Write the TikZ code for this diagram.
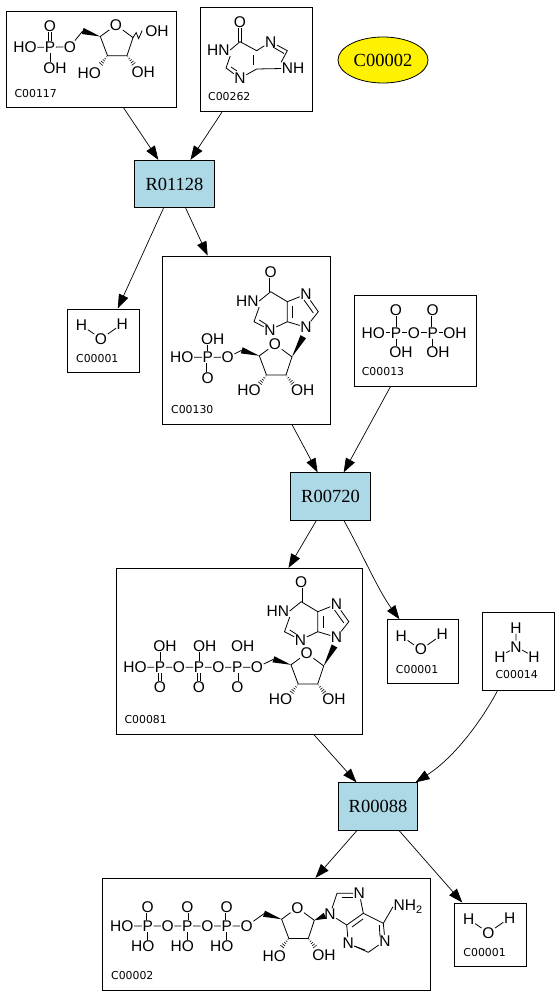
\documentclass[tikz,border=0pt]{standalone}
\usepackage{fontspec}
\setmainfont{Liberation Serif}
\newfontfamily\atomfont{Liberation Sans}
\newfontfamily\cidfont{DejaVu Sans}
\usetikzlibrary{calc, arrows.meta, shapes.geometric}

\tikzset{
  cpdbox/.style={draw, fill=white, line width=.8pt, inner sep=0pt},
  reaction/.style={draw, fill=boxblue, line width=.8pt, inner sep=0pt, minimum width=79.5pt, minimum height=47.5pt, font=\fontsize{18.5}{20}\selectfont},
  atom/.style={inner sep=.5pt, font=\atomfont\fontsize{15.5}{17}\selectfont},
  cid/.style={inner sep=0pt, font=\cidfont\fontsize{10.9}{12}\selectfont},
  bond/.style={line width=.8pt},
  dbl/.style={double, double distance=1.8pt, line width=.7pt},
  edge/.style={line width=.7pt, -{Triangle[length=14pt, width=10pt]}}
}
\definecolor{boxblue}{HTML}{ADD8E6}

% wedge and hash bonds
\newcommand{\wedgebond}[2]{\fill (#1) -- ($(#2)!3.2pt!90:(#1)$) -- ($(#2)!3.2pt!-90:(#1)$) -- cycle;}
\newcommand{\hashbond}[2]{\foreach \t/\w in {.1/.4pt,.28/.9pt,.46/1.3pt,.64/1.8pt,.82/2.3pt,1/2.7pt}
  \draw[line width=.6pt] ($(#1)!\t!(#2)!\w!90:(#2)$) -- ($(#1)!\t!(#2)!\w!-90:(#2)$);}

% sugar ring: prefix, ring oxygen, HO, OH
\newcommand{\ribose}[4]{
  \node[atom] (#1O) at #2 {O};
  \coordinate (#1c4) at ([shift={(-15.7,11.5)}]#1O);
  \coordinate (#1c3) at ([shift={(-8.5,30.7)}]#1O);
  \coordinate (#1c2) at ([shift={(11,30.7)}]#1O);
  \coordinate (#1c1) at ([shift={(17,12.6)}]#1O);
  \coordinate (#1c5) at ([shift={(-33.3,6)}]#1O);
  \coordinate (#1h3) at ([shift={(-8,10)}]#1c3);
  \coordinate (#1h2) at ([shift={(8,10)}]#1c2);
  \node[atom] (#1HO) at #3 {HO};
  \node[atom] (#1OH) at #4 {OH};
  \draw[bond] (#1O) -- (#1c4) -- (#1c3) -- (#1c2) -- (#1c1) -- (#1O);
  \wedgebond{#1c4}{#1c5}
  \hashbond{#1c3}{#1h3}
  \hashbond{#1c2}{#1h2}
}

% base with the sugar link at N9
\newcommand{\hypox}[3]{
  \begin{scope}[shift={(#2,#3)}]
    \node[atom] (#1O6) at (270.7,271.7) {O};
    \coordinate (#1c6) at (270.7,291.7);
    \node[atom] (#1N1) at (247.3,301) {HN};
    \coordinate (#1c2) at (254,321.7);
    \node[atom] (#1N3) at (270,330) {N};
    \coordinate (#1c4) at (287.3,321.7);
    \coordinate (#1c5) at (287.3,301.7);
    \node[atom] (#1N7) at (306,294.3) {N};
    \coordinate (#1c8) at (318.3,311.7);
    \node[atom] (#1N9) at (306,327.3) {N};
    \draw[dbl] (#1O6) -- (#1c6);
    \draw[bond] (#1c6) -- (#1N1.east);
    \draw[bond] (#1N1.south east) -- (#1c2) -- (#1N3) -- (#1c4) -- (#1c5) -- (#1c6);
    \draw[bond] (#1c5) -- (#1N7) -- (#1c8) -- (#1N9) -- (#1c4);
    \draw[bond] (259.3,320) -- (266,324.3);
    \draw[bond] (292.7,306) -- (292.7,318);
    \draw[bond] (304,300) -- (313.3,313);
  \end{scope}
}

% water, from the box corner
\newcommand{\water}[3]{
  \node[cpdbox, anchor=north west, minimum width=71.5pt, minimum height=63.5pt] (#1) at (#2,#3) {};
  \begin{scope}[shift={(#2,#3)}]
    \node[atom] (#1H1) at (14.5,16.7) {H};
    \node[atom] (#1O) at (34,30.3) {O};
    \node[atom] (#1H2) at (55.3,15.3) {H};
    \node[cid] (#1l) at (30.3,50) {C00001};
    \draw[bond] (#1H1) -- (#1O) -- (#1H2);
  \end{scope}
}

\begin{document}
\begin{tikzpicture}[x=1pt, y=-1pt]
    \useasboundingbox[fill=white] (0,0) rectangle (559,995);

    % Boxes
    \node[cpdbox, minimum width=169.5pt, minimum height=95.5pt] (c00117) at (91.3,59.5) {};
    \node[cpdbox, minimum width=112pt, minimum height=104.5pt] (c00262) at (256.7,59.5) {};
    \node[cpdbox, minimum width=168pt, minimum height=168pt] (c00130) at (246.7,340) {};
    \node[cpdbox, minimum width=122.5pt, minimum height=90.5pt] (c00013) at (415.5,340.8) {};
    \node[cpdbox, minimum width=245.5pt, minimum height=166pt] (c00081) at (239.5,651.3) {};
    \node[cpdbox, minimum width=72pt, minimum height=77.5pt] (c00014) at (518.3,651.3) {};
    \node[cpdbox, minimum width=327.5pt, minimum height=111.7pt] (c00002) at (266.3,934.1) {};
    \node[draw, fill=yellow, ellipse, line width=.8pt, inner sep=0pt, minimum width=90pt, minimum height=46pt, font=\fontsize{18.5}{20}\selectfont] (c00002e) at (383,60) {C00002};
    \water{c00001a}{67}{308.5}
    \water{c00001b}{386.8}{619.3}
    \water{c00001c}{454.3}{902.5}

    % Reactions
    \node[reaction] (r01128) at (174.5,184) {R01128};
    \node[reaction] (r00720) at (330.5,496.5) {R00720};
    \node[reaction] (r00088) at (378,806.5) {R00088};

    % C00117
    \ribose{a}{(116,25)}{(89.3,72.7)}{(143.3,71.7)}
    \node[atom] (aP) at (50,47.3) {P};
    \node[atom] (aHO) at (25,47.3) {HO};
    \node[atom] (aOt) at (50,26) {O};
    \node[atom] (aOHb) at (55,68.3) {OH};
    \node[atom] (aO5) at (70,46.7) {O};
    \node[atom] (aOH1) at (157,31) {OH};
    \draw[dbl] (aP) -- (aOt);
    \draw[bond] (aHO) -- (aP) -- (aO5) -- (ac5);
    \draw[bond] (aP) -- (aP |- aOHb.north);
    \draw[bond] (ac1) -- ++(3.2,-5) -- ++(2.4,6) -- ++(3.6,-8);
    \node[cid] (c00117l) at (35.7,93.3) {C00117};

    % C00262
    \node[atom] (bO6) at (240,21.7) {O};
    \coordinate (bc6) at (240,41.7);
    \node[atom] (bN1) at (218.3,50) {HN};
    \coordinate (bc2) at (226,68);
    \node[atom] (bN3) at (240,78.3) {N};
    \coordinate (bc4) at (256.7,69);
    \coordinate (bc5) at (256.7,50.7);
    \node[atom] (bN7) at (270.7,41.7) {N};
    \coordinate (bc8) at (287.3,50.7);
    \node[atom] (bN9) at (293,68.3) {NH};
    \draw[dbl] (bO6) -- (bc6);
    \draw[bond] (bc6) -- (bN1.east);
    \draw[bond] (bN1.south east) -- (bc2) -- (bN3) -- (bc4) -- (bN9);
    \draw[bond] (bc6) -- (bc5) -- (bN7) -- (bc8) -- (bN9.north west);
    \draw[bond] (231,67) -- (237,71);
    \draw[bond] (253,55) -- (253,65);
    \draw[bond] (273,47) -- (284,53.5);
    \node[cid] (c00262l) at (229.3,96.7) {C00262};

    % C00130
    \hypox{c}{0}{0}
    \ribose{d}{(275,344.3)}{(249,390)}{(302.7,390)}
    \coordinate (dw) at (303.3,336.7);
    \wedgebond{dc1}{dw}
    \node[atom] (dP) at (207.7,357.3) {P};
    \node[atom] (dHO1) at (181.7,357.3) {HO};
    \node[atom] (dOH1) at (212.7,339.3) {OH};
    \node[atom] (dOb) at (207.7,378.3) {O};
    \node[atom] (dO5) at (227.7,357.3) {O};
    \draw[dbl] (dP) -- (dOb);
    \draw[bond] (dHO1) -- (dP) -- (dO5) -- (dc5);
    \draw[bond] (dP) -- (dP |- dOH1.south);
    \node[cid] (c00130l) at (192.3,410) {C00130};

    % C00013
    \node[atom] (eHO) at (373.3,332.7) {HO};
    \node[atom] (eP1) at (396,332.7) {P};
    \node[atom] (eO1) at (396,310) {O};
    \node[atom] (eOH1) at (401,351.7) {OH};
    \node[atom] (eO) at (414,332.7) {O};
    \node[atom] (eP2) at (432.7,332.7) {P};
    \node[atom] (eO2) at (432.7,310) {O};
    \node[atom] (eOH2) at (455,332.7) {OH};
    \node[atom] (eOH3) at (438,351.7) {OH};
    \draw[bond] (eHO) -- (eP1) -- (eO) -- (eP2) -- (eOH2);
    \draw[bond] (eP1) -- (eO1);
    \draw[dbl] (eP2) -- (eO2);
    \draw[bond] (eP1) -- (eP1 |- eOH1.north);
    \draw[bond] (eP2) -- (eP2 |- eOH3.north);
    \node[cid] (c00013l) at (383,372) {C00013};

    % C00081
    \hypox{f}{30.5}{310}
    \ribose{g}{(306.7,653.3)}{(280.5,699)}{(334,699)}
    \coordinate (gw) at (334.5,646);
    \wedgebond{gc1}{gw}
    \node[atom] (gHO1) at (135,667.3) {HO};
    \node[atom] (gP1) at (160,667.3) {P};
    \node[atom] (gOH1) at (165,645.7) {OH};
    \node[atom] (gO1b) at (160,687.3) {O};
    \node[atom] (gO1) at (179,667.3) {O};
    \node[atom] (gP2) at (199,667.3) {P};
    \node[atom] (gOH2) at (204.7,645.7) {OH};
    \node[atom] (gO2b) at (199,687.3) {O};
    \node[atom] (gO2) at (218.3,667.3) {O};
    \node[atom] (gP3) at (237.3,667.3) {P};
    \node[atom] (gOH3) at (242.7,645.7) {OH};
    \node[atom] (gO3b) at (237.3,687.3) {O};
    \node[atom] (gO5) at (257,667.3) {O};
    \draw[bond] (gHO1) -- (gP1) -- (gO1) -- (gP2) -- (gO2) -- (gP3) -- (gO5) -- (gc5);
    \draw[dbl] (gP1) -- (gO1b);
    \draw[dbl] (gP2) -- (gO2b);
    \draw[dbl] (gP3) -- (gO3b);
    \draw[bond] (gP1) -- (gP1 |- gOH1.south);
    \draw[bond] (gP2) -- (gP2 |- gOH2.south);
    \node[cid] (c00081l) at (145.7,719.3) {C00081};

    % C00014
    \node[atom] (hN) at (516,646.7) {N};
    \node[atom] (hH1) at (516,627.7) {H};
    \node[atom] (hH2) at (500,656.7) {H};
    \node[atom] (hH3) at (534,656.7) {H};
    \draw[bond] (hH1) -- (hN) -- (hH2);
    \draw[bond] (hN) -- (hH3);
    \node[cid] (c00014l) at (516.7,675) {C00014};

    % C00002
    \ribose{k}{(297.3,907.7)}{(274.3,956)}{(324,955)}
    \node[atom] (kHO1) at (121.7,926) {HO};
    \node[atom] (kP1) at (147.7,926) {P};
    \node[atom] (kO1t) at (147.7,906.7) {O};
    \node[atom] (kHO2) at (142.7,946) {HO};
    \node[atom] (kO1) at (167.7,926) {O};
    \node[atom] (kP2) at (187.3,926) {P};
    \node[atom] (kO2t) at (187.3,906.7) {O};
    \node[atom] (kHO3) at (182.3,946) {HO};
    \node[atom] (kO2) at (207.3,926) {O};
    \node[atom] (kP3) at (226.7,926) {P};
    \node[atom] (kO3t) at (226.7,906.7) {O};
    \node[atom] (kHO4) at (221.7,946) {HO};
    \node[atom] (kO5) at (246.7,926) {O};
    \draw[bond] (kHO1) -- (kP1) -- (kO1) -- (kP2) -- (kO2) -- (kP3) -- (kO5) -- (kc5);
    \draw[dbl] (kP1) -- (kO1t);
    \draw[dbl] (kP2) -- (kO2t);
    \draw[dbl] (kP3) -- (kO3t);
    \draw[bond] (kP1) -- (kP1 |- kHO2.north);
    \draw[bond] (kP2) -- (kP2 |- kHO3.north);
    \draw[bond] (kP3) -- (kP3 |- kHO4.north);
    % adenine
    \node[atom] (kN9) at (330,914.3) {N};
    \coordinate (kc8) at (337,893.3);
    \node[atom] (kN7) at (359.3,893.3) {N};
    \coordinate (kb5) at (363.3,913.3);
    \coordinate (kb4) at (346.7,925);
    \coordinate (kb6) at (383.3,923.3);
    \node[atom, anchor=west] (kN6) at (393,906.7) {NH\textsubscript{2}};
    \node[atom] (kN1) at (385,940.7) {N};
    \coordinate (kb2) at (368.3,952.3);
    \node[atom] (kN3) at (348.3,943.3) {N};
    \coordinate (kw) at (325,915.7);
    \wedgebond{kc1}{kw}
    \draw[bond] (kN9) -- (kc8) -- (kN7) -- (kb5) -- (kb4) -- (kN9);
    \draw[bond] (kb4) -- (kN3) -- (kb2) -- (kN1) -- (kb6) -- (kb5);
    \draw[bond] (kb6) -- (kN6.west);
    \draw[bond] (341.7,897.7) -- (353.3,897.7);
    \draw[bond] (352,927) -- (363,919);
    \draw[bond] (379.3,925) -- (380,936.7);
    \draw[bond] (354,946) -- (365,950);
    \node[cid] (c00002l) at (132.3,976) {C00002};

    % Connectors
    \draw[edge] (c00117) -- (r01128);
    \draw[edge] (c00262) -- (r01128);
    \draw[edge] (r01128) -- (c00001a);
    \draw[edge] (r01128) -- (c00130);
    \draw[edge] (c00130) -- (r00720);
    \draw[edge] (c00013) -- (r00720);
    \draw[edge] (r00720) -- (c00081);
    \draw[edge] (r00720) .. controls (362,553) and (378,590) .. (c00001b);
    \draw[edge] (c00081) -- (r00088);
    \draw[edge] (c00014) .. controls (482,720) and (455,757) .. (r00088);
    \draw[edge] (r00088) -- (c00002);
    \draw[edge] (r00088) -- (c00001c);
\end{tikzpicture}
\end{document}
